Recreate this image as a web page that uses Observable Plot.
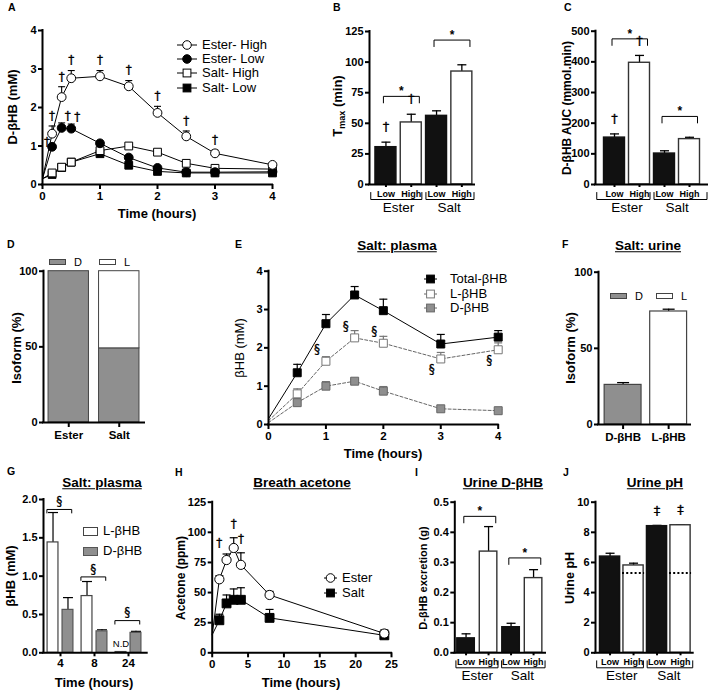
<!DOCTYPE html>
<html><head><meta charset="utf-8">
<script src="https://cdn.jsdelivr.net/npm/d3@7"></script>
<script src="https://cdn.jsdelivr.net/npm/@observablehq/plot@0.6"></script>
<style>
body{margin:0;background:#fff;font-family:"Liberation Sans",Arial,Helvetica,sans-serif;color:#000;}
#fig{position:relative;width:708px;height:690px;overflow:hidden;background:#fff;}
</style></head><body><div id="fig"></div>
<script>
// ---------------- DATA ----------------
// Panel A: D-βHB (mM) over time (hours)
const timeA = [0, 0.167, 0.333, 0.5, 1, 1.5, 2, 2.5, 3, 4];
const esterHighA    = [0.15, 1.32, 2.27, 2.76, 2.81, 2.55, 1.86, 1.25, 0.81, 0.51];
const esterHighErrA = [0,    0.20, 0.27, 0.20, 0.15, 0.15, 0.17, 0.14, 0.08, 0.03];
const esterLowA     = [0.15, 0.98, 1.47, 1.45, 1.07, 0.70, 0.43, 0.32, 0.32, 0.33];
const esterLowErrA  = [0,    0.06, 0.13, 0.12, 0.05, 0.05, 0.03, 0.02, 0.02, 0.02];
const saltHighA     = [0.15, 0.30, 0.45, 0.58, 0.88, 1.00, 0.84, 0.55, 0.42, 0.40];
const saltHighErrA  = [0,    0.02, 0.03, 0.03, 0.05, 0.04, 0.03, 0.03, 0.02, 0.02];
const saltLowA      = [0.15, 0.26, 0.44, 0.58, 0.80, 0.50, 0.34, 0.30, 0.30, 0.30];
const saltLowErrA   = [0,    0.02, 0.02, 0.03, 0.04, 0.03, 0.02, 0.02, 0.02, 0.02];
const daggerTimesAHigh = [0.167, 0.333, 0.5, 1, 1.5, 2, 2.5, 3];
const daggerTimesALow = [0.333, 0.5];
const daggerTimesALowLeft = [0.167];
const legendA = ["Ester- High", "Ester- Low", "Salt- High", "Salt- Low"];

// Shared bar categories
const groups = ["Ester", "Salt"];
const doses = ["Low", "High"];

// Panel B: Tmax (min)
const tmaxB = [30.5, 50.7, 56.1, 92.3];
const tmaxErrB = [4.1, 6.7, 4.1, 5.5];
const sigLevelB = [72, 118];
const daggerBarsB = [0, 1];

// Panel C: D-βHB AUC (mmol.min)
const aucC = [153, 397, 101, 148];
const aucErrC = [12, 24, 9, 6];
const sigLevelC = [475, 222];
const daggerBarsC = [0, 1];

// Panel D: isoform (%)
const formsD = ["Ester", "Salt"];
const dPctD = [100, 49];
const lPctD = [0, 51];
const isoLabels = ["D", "L"];

// Panel E: Salt plasma βHB (mM)
const timeE = [0, 0.5, 1, 1.5, 2, 3, 4];
const totalE    = [0.15, 1.35, 2.63, 3.38, 2.97, 2.10, 2.28];
const totalErrE = [0,    0.22, 0.24, 0.22, 0.30, 0.25, 0.17];
const lE        = [0.10, 0.80, 1.65, 2.26, 2.12, 1.71, 1.95];
const lErrE     = [0,    0.13, 0.12, 0.19, 0.18, 0.17, 0.18];
const dE        = [0.05, 0.57, 1.00, 1.13, 0.87, 0.41, 0.36];
const dErrE     = [0,    0.10, 0.12, 0.04, 0.12, 0.03, 0.03];
const sectTimesEAbove = [1, 1.5, 2];
const sectTimesEBelow = [3, 4];
const legendE = ["Total-βHB", "L-βHB", "D-βHB"];

// Panel F: Salt urine isoform (%)
const isoF = ["D-βHB", "L-βHB"];
const pctF = [26, 74.2];
const pctErrF = [1.5, 1.5];

// Panel G: Salt plasma βHB (mM) by time
const timeG = ["4", "8", "24"];
const lG = [1.44, 0.74, 0.01];
const lErrG = [0.39, 0.19, 0];
const dG = [0.56, 0.28, 0.26];
const dErrG = [0.16, 0.02, 0.02];
const sigLevelG = [1.87, 0.99, 0.42];
const ndIndexG = [2];
const legendG = ["L-βHB", "D-βHB"];

// Panel H: Breath acetone (ppm)
const timeH = [0, 1, 2, 3, 4, 8, 24];
const esterH    = [15, 61, 77, 87, 73, 48, 16];
const esterErrH = [0, 3, 5, 8.5, 10, 3, 3];
const saltH     = [15, 27, 41, 44, 44, 29, 14.5];
const saltErrH  = [0, 5, 7, 9, 10, 7, 4];
const daggerTimesH = [3, 4];
const daggerTimesHHigh = [1];
const legendH = ["Ester", "Salt"];

// Panel I: Urine D-βHB excretion (g)
const excrI = [0.048, 0.336, 0.085, 0.248];
const excrErrI = [0.015, 0.083, 0.013, 0.028];
const sigLevelI = [0.453, 0.315];

// Panel J: Urine pH
const phJ = [6.39, 5.80, 8.41, 8.47];
const phErrJ = [0.22, 0.15, 0.05, 0.03];
const refPhJ = 5.3;
const refBarsJ = [1, 3];
const ddaggerBarsJ = [2, 3];

// ---------------- HELPERS ----------------
const FONT = '"Liberation Sans", Arial, Helvetica, sans-serif';
const GLYPH_FONT = '"DejaVu Sans", "Liberation Sans", sans-serif';
const GRAY = "#8f8f8f";
const fig = document.getElementById("fig");
const intFmt = d3.format("d");

function addPlot(box, frame, opts) {
  const svg = Plot.plot({
    width: box.w, height: box.h,
    marginLeft: frame.x0 - box.left,
    marginRight: box.left + box.w - frame.x1,
    marginTop: frame.y0 - box.top,
    marginBottom: box.top + box.h - frame.y1,
    style: {fontFamily: FONT, fontSize: "11px", fontWeight: "bold", color: "#000",
      background: "transparent", overflow: "visible", position: "absolute",
      left: box.left + "px", top: box.top + "px", maxWidth: "none"},
    ...opts
  });
  fig.appendChild(svg);
  return svg;
}
function html(x, y, content, css = "") {
  const d = document.createElement("div");
  d.innerHTML = content;
  d.style.cssText = `position:absolute;left:${x}px;top:${y}px;white-space:nowrap;font-family:${FONT};color:#000;` + css;
  fig.appendChild(d);
  return d;
}
const center = "transform:translate(-50%,-50%);";
function letter(x, y, t) { html(x, y, t, "font-size:10.5px;font-weight:bold;line-height:1;"); }
function title(x, y, t, fs = 13.5) { html(x, y, t, center + `font-size:${fs}px;font-weight:bold;text-decoration:underline;line-height:1;`); }
function ylab(x, y, t, fs = 12.5, bold = true) { html(x, y, t, `transform:translate(-50%,-50%) rotate(-90deg);font-size:${fs}px;font-weight:${bold ? "bold" : "normal"};line-height:1;`); }
function xlab(x, y, t, fs = 12.5) { html(x, y, t, center + `font-size:${fs}px;font-weight:bold;line-height:1;`); }

const capSym = {draw(ctx, size) { const w = Math.sqrt(size / Math.PI); ctx.moveTo(-w, 0); ctx.lineTo(w, 0); }};
function errMarks(rows, x, {stroke = "#000", sw = 1.2, cap = 3.5} = {}) {
  return [
    Plot.ruleX(rows, {x, y1: "v", y2: d => d.v + d.e, stroke, strokeWidth: sw}),
    Plot.dot(rows, {x, y: d => d.v + d.e, symbol: capSym, r: cap, stroke, fill: "none", strokeWidth: sw})
  ];
}
function glyph(rows, opts) {
  return Plot.text(rows, {fontWeight: "normal", fill: "#000", stroke: "#000", strokeWidth: 0.3, fontFamily: GLYPH_FONT, fontSize: 12, ...opts});
}
function axisLines(x0) {
  return [
    Plot.ruleY([0], {strokeWidth: 2, strokeLinecap: "square"}),
    Plot.ruleX([x0], {strokeWidth: 2, strokeLinecap: "square"})
  ];
}
function yAxis(ticks, fmt = intFmt, fs = 11) {
  return Plot.axisY({ticks, tickFormat: fmt, tickSize: 4, tickPadding: 2, strokeWidth: 2, fontSize: fs, label: null});
}
function xAxis(ticks, fmt = intFmt, fs = 11.5, size = 5, pad = 2) {
  return Plot.axisX({ticks, tickFormat: fmt, tickSize: size, tickPadding: pad, strokeWidth: 2, fontSize: fs, label: null});
}
function legendSym(x, y, w, marker, line = "#000", dash = "") {
  const cx = w / 2;
  html(x, y - 6, `<svg width="${w}" height="12" style="display:block;overflow:visible"><line x1="0" y1="6" x2="${w}" y2="6" stroke="${line}" stroke-width="1" ${dash ? `stroke-dasharray="${dash}"` : ""}/>${marker(cx, 6)}</svg>`);
}
const circ = (fill) => (cx, cy) => `<circle cx="${cx}" cy="${cy}" r="4.3" fill="${fill}" stroke="#000" stroke-width="1"/>`;
const sq = (fill, stroke = "#000") => (cx, cy) => `<rect x="${cx - 3.9}" y="${cy - 3.9}" width="7.8" height="7.8" fill="${fill}" stroke="${stroke}" stroke-width="1"/>`;
function swatch(x, y, w, h, fill, stroke = "#444") {
  html(x, y, `<div style="width:${w}px;height:${h}px;background:${fill};border:1px solid ${stroke};box-sizing:border-box"></div>`);
}

// Generic Low/High × Ester/Salt bar panel
function barPanel({box, frame, xDom, yDom, yTicks, yFmt = intFmt, vals, errs, half, sig, daggerBars = [], daggerGlyph = "†", extra = []}) {
  const rows = vals.map((v, i) => ({i, v, e: errs[i], dose: doses[i % 2], group: groups[Math.floor(i / 2)]}));
  const k = (yDom[1] - yDom[0]) / (frame.y1 - frame.y0);
  const spans = [[xDom[0] + 0.05, 1.42], [1.58, xDom[1] - 0.02]];
  const under = spans.flatMap(([a, b], g) => [[a, -8 * k, g], [a, -15 * k, g], [b, -15 * k, g], [b, -8 * k, g]]);
  const over = (sig || []).flatMap((lvl, g) => {
    const a = 2 * g - 0.1, b = 2 * g + 1.32;
    return [[a, lvl - 6.5 * k, g], [a, lvl, g], [b, lvl, g], [b, lvl - 6.5 * k, g]];
  });
  const marks = [
    ...errMarks(rows, "i", {cap: 4.5, sw: 1.3}),
    Plot.rect(rows, {x1: d => d.i - half, x2: d => d.i + half, y1: 0, y2: "v",
      fill: d => d.dose === "Low" ? "#111" : "#fff", stroke: d => d.dose === "Low" ? "#111" : "#333", strokeWidth: 1.4}),
    ...axisLines(xDom[0]),
    yAxis(yTicks, yFmt),
    xAxis([0, 1, 2, 3], i => doses[i % 2], 9, 3, 3),
    Plot.line(under, {x: d => d[0], y: d => d[1], z: d => d[2], stroke: "#000", strokeWidth: 1}),
    Plot.text(groups.map((g, j) => ({g, x: 2 * j + 0.5})), {x: "x", text: "g", frameAnchor: "bottom", dy: 27, fontSize: 13.5, fontWeight: "normal"}),
    Plot.line(over, {x: d => d[0], y: d => d[1], z: d => d[2], stroke: "#000", strokeWidth: 1}),
    Plot.text((sig || []).map((lvl, g) => ({x: 2 * g + 0.61, y: lvl})), {x: "x", y: "y", text: () => "*", dy: -5, fontSize: 12}),
    glyph(rows.filter(d => daggerBars.includes(d.i)), {x: "i", y: d => d.v + d.e, text: () => daggerGlyph, dy: -15, fontSize: 13}),
    ...extra
  ];
  addPlot(box, frame, {x: {domain: xDom}, y: {domain: yDom}, marks});
}

// ---------------- PANEL A ----------------
{
  const box = {left: 0, top: 0, w: 300, h: 225};
  const frame = {x0: 42, x1: 272, y0: 30, y1: 184};
  const series = [
    {vals: saltLowA, errs: saltLowErrA, symbol: "square", fill: "#000"},
    {vals: saltHighA, errs: saltHighErrA, symbol: "square", fill: "#fff"},
    {vals: esterLowA, errs: esterLowErrA, symbol: "circle", fill: "#000"},
    {vals: esterHighA, errs: esterHighErrA, symbol: "circle", fill: "#fff"}
  ];
  const marks = [];
  const rowsOf = s => timeA.map((t, i) => ({t, v: s.vals[i], e: s.errs[i]}));
  for (const s of series) {
    const rows = rowsOf(s);
    const pts = rows.filter(d => d.t > 0);
    marks.push(Plot.line(rows, {x: "t", y: "v", stroke: "#000", strokeWidth: 1}));
    marks.push(...errMarks(pts, "t", {cap: 3.5, sw: 1.1}));
    marks.push(Plot.dot(pts, {x: "t", y: "v", symbol: s.symbol, r: 4.4, fill: s.fill, stroke: "#000", strokeWidth: 1}));
  }
  const hi = rowsOf(series[3]), lo = rowsOf(series[2]);
  marks.push(glyph(hi.filter(d => daggerTimesAHigh.includes(d.t)), {x: "t", y: d => d.v + d.e, text: () => "†", dy: -10}));
  marks.push(glyph(lo.filter(d => daggerTimesALow.includes(d.t)), {x: "t", y: d => d.v + d.e, text: () => "†", dy: -7, dx: 6}));
  marks.push(glyph(lo.filter(d => daggerTimesALowLeft.includes(d.t)), {x: "t", y: d => d.v + d.e, text: () => "†", dy: -2, dx: -5}));
  marks.push(...axisLines(0), yAxis([0, 1, 2, 3, 4]), xAxis([0, 1, 2, 3, 4]));
  addPlot(box, frame, {x: {domain: [0, 4]}, y: {domain: [0, 4]}, marks});
  letter(8, 2, "A");
  ylab(12, 107, "D-βHB (mM)", 13);
  xlab(157, 213, "Time (hours)", 13);
  const syms = [circ("#fff"), circ("#000"), sq("#fff"), sq("#000")];
  legendA.forEach((t, i) => {
    const y = 45 + i * 14.2;
    legendSym(177, y, 20, syms[i]);
    html(202, y - 8, t, "font-size:13px;line-height:16px;");
  });
}

// ---------------- PANEL B ----------------
barPanel({
  box: {left: 300, top: 0, w: 215, h: 225},
  frame: {x0: 369, x1: 474, y0: 31, y1: 184},
  xDom: [-0.65, 3.5], yDom: [0, 125], yTicks: [0, 25, 50, 75, 100, 125],
  vals: tmaxB, errs: tmaxErrB, half: 0.415, sig: sigLevelB, daggerBars: daggerBarsB
});
letter(333, 2, "B");
ylab(339, 106, "T<sub style='font-size:9px'>max</sub> (min)", 13);

// ---------------- PANEL C ----------------
barPanel({
  box: {left: 515, top: 0, w: 193, h: 225},
  frame: {x0: 595, x1: 707, y0: 30.7, y1: 184},
  xDom: [-0.76, 3.72], yDom: [0, 500], yTicks: [0, 100, 200, 300, 400, 500],
  vals: aucC, errs: aucErrC, half: 0.42, sig: sigLevelC, daggerBars: daggerBarsC
});
letter(564, 2, "C");
ylab(567, 108, "D-βHB AUC (mmol.min)", 12);

// ---------------- PANEL D ----------------
{
  const box = {left: 0, top: 225, w: 235, h: 225};
  const frame = {x0: 43, x1: 144, y0: 270.7, y1: 422};
  const rows = formsD.flatMap((f, i) => [
    {i, iso: "D", y1: 0, y2: dPctD[i]},
    {i, iso: "L", y1: dPctD[i], y2: dPctD[i] + lPctD[i]}
  ]).filter(d => d.y2 > d.y1);
  const marks = [
    Plot.rect(rows, {x1: d => d.i - 0.4, x2: d => d.i + 0.4, y1: "y1", y2: "y2",
      fill: d => d.iso === "D" ? GRAY : "#fff", stroke: "#444", strokeWidth: 1}),
    ...axisLines(-0.5),
    yAxis([0, 50, 100]),
    xAxis([0, 1], i => formsD[i], 11.5, 5, 3)
  ];
  addPlot(box, frame, {x: {domain: [-0.5, 1.5]}, y: {domain: [0, 100]}, marks});
  letter(7, 239, "D");
  ylab(16, 348, "Isoform (%)", 13);
  swatch(49, 259, 17, 6, GRAY);
  html(74, 256, isoLabels[0], "font-size:11px;line-height:12px;");
  swatch(99, 259, 17, 6, "#fff");
  html(124, 256, isoLabels[1], "font-size:11px;line-height:12px;");
}

// ---------------- PANEL E ----------------
{
  const box = {left: 235, top: 225, w: 325, h: 232};
  const frame = {x0: 268, x1: 497.7, y0: 270.7, y1: 424};
  const mk = (vals, errs) => timeE.map((t, i) => ({t, v: vals[i], e: errs[i]}));
  const series = [
    {rows: mk(dE, dErrE), line: "#666", dash: "3,2", fill: GRAY, stroke: "#666", err: "#777"},
    {rows: mk(lE, lErrE), line: "#666", dash: "3,2", fill: "#fff", stroke: "#777", err: "#777"},
    {rows: mk(totalE, totalErrE), line: "#000", dash: null, fill: "#000", stroke: "#000", err: "#000"}
  ];
  const marks = [];
  for (const s of series) {
    const pts = s.rows.filter(d => d.t > 0);
    marks.push(Plot.line(s.rows, {x: "t", y: "v", stroke: s.line, strokeWidth: 1, strokeDasharray: s.dash}));
    marks.push(...errMarks(pts.filter(d => d.e > 0), "t", {stroke: s.err, cap: 4, sw: 1.2}));
    marks.push(Plot.dot(pts, {x: "t", y: "v", symbol: "square", r: 4.5, fill: s.fill, stroke: s.stroke, strokeWidth: 1}));
  }
  const lRows = series[1].rows;
  marks.push(glyph(lRows.filter(d => sectTimesEAbove.includes(d.t)), {x: "t", y: "v", text: () => "§", dx: -9, dy: -12}));
  marks.push(glyph(lRows.filter(d => sectTimesEBelow.includes(d.t)), {x: "t", y: "v", text: () => "§", dx: -9, dy: 10}));
  marks.push(...axisLines(0), yAxis([0, 1, 2, 3, 4]), xAxis([0, 1, 2, 3, 4]));
  addPlot(box, frame, {x: {domain: [0, 4]}, y: {domain: [0, 4]}, marks});
  letter(235, 239, "E");
  title(397, 246, "Salt: plasma");
  ylab(239, 348, "βHB (mM)", 13, false);
  xlab(383, 453, "Time (hours)", 13);
  const syms = [sq("#000"), sq("#fff", "#777"), sq(GRAY, "#666")];
  const lines = [["#000", ""], ["#666", "3,2"], ["#666", "3,2"]];
  legendE.forEach((t, i) => {
    const y = 279 + i * 14.7;
    legendSym(424, y, 13, syms[i], lines[i][0], lines[i][1]);
    html(450, y - 8, t, "font-size:13px;line-height:16px;");
  });
}

// ---------------- PANEL F ----------------
{
  const box = {left: 560, top: 225, w: 148, h: 232};
  const frame = {x0: 598, x1: 690, y0: 271.7, y1: 424};
  const rows = isoF.map((f, i) => ({i, v: pctF[i], e: pctErrF[i]}));
  const marks = [
    ...errMarks(rows, "i", {cap: 6, sw: 1.3}),
    Plot.rect(rows, {x1: d => d.i - 0.405, x2: d => d.i + 0.405, y1: 0, y2: "v",
      fill: d => d.i === 0 ? GRAY : "#fff", stroke: "#444", strokeWidth: 1.2}),
    ...axisLines(-0.54),
    yAxis([0, 50, 100]),
    xAxis([0, 1], i => isoF[i], 11.5, 5, 3)
  ];
  addPlot(box, frame, {x: {domain: [-0.54, 1.48]}, y: {domain: [0, 100]}, marks});
  letter(562, 239, "F");
  title(648, 246, "Salt: urine");
  ylab(570, 348, "Isoform (%)", 13);
  swatch(610, 293, 17, 6, GRAY);
  html(635, 290, isoLabels[0], "font-size:11px;line-height:12px;");
  swatch(656, 293, 17, 6, "#fff");
  html(681, 290, isoLabels[1], "font-size:11px;line-height:12px;");
}

// ---------------- PANEL G ----------------
{
  const box = {left: 0, top: 450, w: 175, h: 240};
  const frame = {x0: 43, x1: 146.7, y0: 499, y1: 652.3};
  const k = 2 / (frame.y1 - frame.y0);
  const lRows = timeG.map((t, i) => ({i, v: lG[i], e: lErrG[i]}));
  const dRows = timeG.map((t, i) => ({i, v: dG[i], e: dErrG[i]}));
  const br = sigLevelG.flatMap((lvl, g) => {
    const a = g - 0.4, b = g + 0.33;
    return [[a, lvl - 3.5 * k, g], [a, lvl, g], [b, lvl, g], [b, lvl - 3.5 * k, g]];
  });
  const marks = [
    ...errMarks(lRows.filter(d => d.e > 0).map(d => ({...d, x: d.i - 0.22})), "x", {cap: 5, sw: 1.2}),
    ...errMarks(dRows.map(d => ({...d, x: d.i + 0.22})), "x", {cap: 5, sw: 1.2}),
    Plot.rect(lRows, {x1: d => d.i - 0.38, x2: d => d.i - 0.06, y1: 0, y2: "v", fill: "#fff", stroke: "#444", strokeWidth: 1.2}),
    Plot.rect(dRows, {x1: d => d.i + 0.06, x2: d => d.i + 0.38, y1: 0, y2: "v", fill: GRAY, stroke: "#555", strokeWidth: 1.2}),
    Plot.line(br, {x: d => d[0], y: d => d[1], z: d => d[2], stroke: "#000", strokeWidth: 1}),
    glyph(sigLevelG.map((lvl, g) => ({x: g - 0.035, y: lvl})), {x: "x", y: "y", text: () => "§", dy: -8}),
    Plot.text(lRows.filter(d => ndIndexG.includes(d.i)), {x: d => d.i - 0.22, y: 0, text: () => "N.D", dy: -9, fontSize: 9.5, fontWeight: "normal"}),
    ...axisLines(-0.5),
    yAxis([0, 0.5, 1, 1.5, 2], d3.format(".1f")),
    xAxis([0, 1, 2], i => timeG[i], 11.5, 4, 2)
  ];
  addPlot(box, frame, {x: {domain: [-0.5, 2.55]}, y: {domain: [0, 2]}, marks});
  letter(7, 466, "G");
  title(102, 483, "Salt: plasma");
  ylab(10, 576, "βHB (mM)", 13, true);
  xlab(94, 682, "Time (hours)", 13);
  swatch(83, 527, 15, 9, "#fff");
  html(103, 523, legendG[0], "font-size:13px;line-height:16px;");
  swatch(83, 547, 15, 9, GRAY, "#555");
  html(103, 543, legendG[1], "font-size:13px;line-height:16px;");
}

// ---------------- PANEL H ----------------
{
  const box = {left: 175, top: 450, w: 235, h: 240};
  const frame = {x0: 211.7, x1: 391, y0: 501.7, y1: 652.3};
  const mk = (vals, errs) => timeH.map((t, i) => ({t, v: vals[i], e: errs[i]}));
  const series = [
    {rows: mk(saltH, saltErrH), symbol: "square", fill: "#000"},
    {rows: mk(esterH, esterErrH), symbol: "circle", fill: "#fff"}
  ];
  const marks = [];
  for (const s of series) {
    const pts = s.rows.filter(d => d.t > 0);
    marks.push(Plot.line(s.rows, {x: "t", y: "v", stroke: "#000", strokeWidth: 1}));
    marks.push(...errMarks(pts, "t", {cap: 4, sw: 1.2}));
    marks.push(Plot.dot(pts, {x: "t", y: "v", symbol: s.symbol, r: s.symbol === "square" ? 5 : 4.6, fill: s.fill, stroke: "#000", strokeWidth: 1}));
  }
  const eRows = series[1].rows;
  marks.push(glyph(eRows.filter(d => daggerTimesH.includes(d.t)), {x: "t", y: d => d.v + d.e, text: () => "†", dy: -14}));
  marks.push(glyph(eRows.filter(d => daggerTimesHHigh.includes(d.t)), {x: "t", y: d => d.v + d.e, text: () => "†", dy: -33}));
  marks.push(...axisLines(0), yAxis([0, 25, 50, 75, 100, 125]), xAxis([0, 5, 10, 15, 20, 25]));
  addPlot(box, frame, {x: {domain: [0, 25]}, y: {domain: [0, 125]}, marks});
  letter(175, 467, "H");
  title(302, 483, "Breath acetone");
  ylab(181, 578, "Acetone (ppm)", 12);
  xlab(301, 682, "Time (hours)", 13);
  const syms = [circ("#fff"), sq("#000")];
  legendH.forEach((t, i) => {
    const y = 578 + i * 14.7;
    legendSym(324, y, 13, syms[i]);
    html(342, y - 8, t, "font-size:13px;line-height:16px;");
  });
}

// ---------------- PANEL I ----------------
barPanel({
  box: {left: 410, top: 450, w: 148, h: 240},
  frame: {x0: 454.3, x1: 545, y0: 501.7, y1: 652.3},
  xDom: [-0.5, 3.53], yDom: [0, 0.5], yTicks: [0, 0.1, 0.2, 0.3, 0.4, 0.5], yFmt: d3.format(".1f"),
  vals: excrI, errs: excrErrI, half: 0.39, sig: sigLevelI
});
letter(415, 467, "I");
title(503, 483, "Urine D-βHB");
ylab(423, 578, "D-βHB excretion (g)", 11);

// ---------------- PANEL J ----------------
barPanel({
  box: {left: 558, top: 450, w: 150, h: 240},
  frame: {x0: 595, x1: 692.7, y0: 501.7, y1: 652.3},
  xDom: [-0.62, 3.54], yDom: [0, 10], yTicks: [0, 2, 4, 6, 8, 10],
  vals: phJ, errs: phErrJ, half: 0.43, sig: [],
  daggerBars: ddaggerBarsJ, daggerGlyph: "‡",
  extra: [
    Plot.ruleY(refBarsJ.map(i => ({i, y: refPhJ})), {x1: d => d.i - 0.47, x2: d => d.i + 0.47, y: "y", stroke: "#000", strokeWidth: 2, strokeDasharray: "2,2.2"})
  ]
});
letter(563, 467, "J");
title(655, 483, "Urine pH");
ylab(570, 578, "Urine pH", 12.5);
</script></body></html>
